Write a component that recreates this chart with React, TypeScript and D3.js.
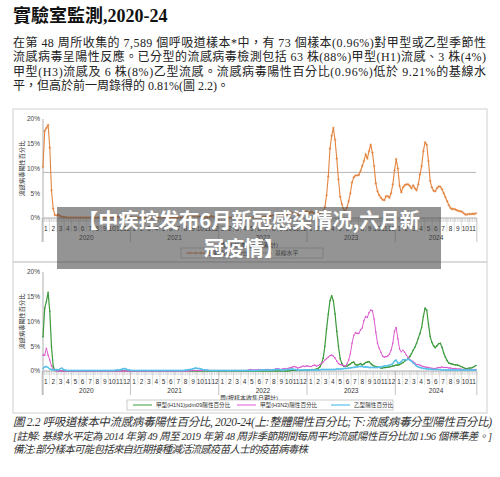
import React from 'react';
import * as d3 from 'd3';

const years = ['2020', '2021', '2022', '2023', '2024'];
const weeksPerYear = [52, 52, 52, 52, 48];
const monthsPerYear = [12, 12, 12, 12, 11];
const yTicks = [0, 5, 10, 15, 20];
const baselineLevel = 9.21;

// overall positive %
const overall2020 = [
  10.3, 17.6, 18.2, 18.8, 14.2, 5.6, 1.9, 0.6, 0.5, 0.7,
  0.4, 0.3, 0.2, 0.2, 0.1, 0.1, 0.1, 0.1, 0.1, 0.1,
  0.1, 0.1, 0.1, 0.1, 0.1, 0.1, 0.1, 0.1, 0.1, 0.1,
  0.1, 0.1, 0.1, 0.1, 0.1, 0.1, 0.2, 0.1, 0.1, 0.1,
  0.1, 0.2, 0.2, 0.2, 0.3, 0.2, 0.3, 0.4, 0.3, 0.2,
  0.2, 0.2,
];
const overall2021 = [
  0.2, 0.1, 0.1, 0.1, 0.1, 0.1, 0.1, 0.1, 0.1, 0.1,
  0.1, 0.1, 0.1, 0.1, 0.1, 0.1, 0.1, 0.1, 0.1, 0.1,
  0.1, 0.1, 0.1, 0.1, 0.1, 0.1, 0.1, 0.1, 0.1, 0.1,
  0.1, 0.2, 0.2, 0.3, 0.3, 0.4, 0.5, 0.4, 0.5, 0.4,
  0.3, 0.3, 0.3, 0.2, 0.2, 0.2, 0.3, 0.4, 0.3, 0.2,
  0.2, 0.2,
];
const overall2022 = [
  0.2, 0.2, 0.1, 0.1, 0.1, 0.1, 0.1, 0.1, 0.1, 0.1,
  0.1, 0.1, 0.1, 0.1, 0.1, 0.1, 0.1, 0.1, 0.1, 0.1,
  0.1, 0.1, 0.2, 0.2, 0.2, 0.2, 0.2, 0.3, 0.3, 0.4,
  0.4, 0.5, 0.5, 0.6, 0.5, 0.5, 0.4, 0.5, 0.5, 0.6,
  0.7, 0.9, 1.1, 1.0, 0.9, 0.8, 0.7, 0.6, 0.8, 1.0,
  1.2, 1.3,
];
const overall2023 = [
  1.2, 1.0, 1.3, 1.1, 0.9, 1.1, 1.0, 0.8, 1.2, 1.2,
  2.2, 4.6, 8.4, 14.0, 16.6, 18.2, 15.8, 12.0, 7.8, 4.3,
  2.8, 1.8, 1.4, 2.1, 3.4, 5.0, 7.2, 8.2, 8.6, 8.6,
  8.7, 9.5, 10.5, 11.5, 12.9, 12.0, 13.5, 14.8, 13.2, 10.5,
  7.0, 5.4, 4.6, 4.1, 3.7, 3.6, 4.4, 4.4, 4.1, 5.0,
  6.8, 9.6,
];
const overall2024 = [
  11.9, 10.0, 6.5, 5.2, 6.2, 6.6, 6.8, 6.8, 6.5, 6.0,
  6.6, 6.0, 5.6, 6.8, 8.8, 10.5, 13.5, 15.3, 14.8, 11.5,
  7.5, 6.2, 5.5, 5.4, 6.0, 6.4, 6.3, 5.8, 5.0, 4.2,
  3.4, 2.6, 2.0, 1.8, 1.8, 1.7, 1.5, 1.4, 1.35, 1.2,
  0.9, 0.65, 0.75, 0.8, 0.8, 0.85, 0.81, 0.96,
];

// A(H1N1)pdm09
const h1_2020 = [
  6.9, 12.7, 14.0, 15.9, 12.0, 4.9, 1.0, 0.1, 0.1, 0.0,
  0.0, 0.0, 0.0, 0.0, 0.0, 0.0, 0.0, 0.0, 0.0, 0.0,
  0.0, 0.0, 0.0, 0.0, 0.0, 0.0, 0.0, 0.0, 0.0, 0.0,
  0.0, 0.0, 0.0, 0.0, 0.0, 0.0, 0.0, 0.0, 0.0, 0.0,
  0.0, 0.0, 0.0, 0.0, 0.0, 0.0, 0.0, 0.0, 0.0, 0.0,
  0.0, 0.0,
];
const h1_2021 = [
  0.0, 0.0, 0.0, 0.0, 0.0, 0.0, 0.0, 0.0, 0.0, 0.0,
  0.0, 0.0, 0.0, 0.0, 0.0, 0.0, 0.0, 0.0, 0.0, 0.0,
  0.0, 0.0, 0.0, 0.0, 0.0, 0.0, 0.0, 0.0, 0.0, 0.0,
  0.0, 0.0, 0.0, 0.0, 0.0, 0.0, 0.0, 0.0, 0.0, 0.0,
  0.0, 0.0, 0.0, 0.0, 0.0, 0.0, 0.0, 0.0, 0.0, 0.0,
  0.0, 0.0,
];
const h1_2022 = [
  0.0, 0.0, 0.0, 0.0, 0.0, 0.0, 0.0, 0.0, 0.0, 0.0,
  0.0, 0.0, 0.0, 0.0, 0.0, 0.0, 0.0, 0.0, 0.0, 0.0,
  0.0, 0.0, 0.0, 0.0, 0.0, 0.0, 0.0, 0.0, 0.0, 0.0,
  0.0, 0.0, 0.0, 0.0, 0.0, 0.0, 0.0, 0.0, 0.0, 0.0,
  0.0, 0.0, 0.1, 0.1, 0.1, 0.1, 0.1, 0.1, 0.1, 0.1,
  0.2, 0.2,
];
const h1_2023 = [
  0.2, 0.2, 0.3, 0.3, 0.3, 0.4, 0.5, 0.8, 1.5, 2.6,
  5.0, 8.5, 11.5, 14.2, 15.2, 14.2, 11.5, 8.0, 5.0, 2.5,
  1.5, 1.0, 0.9, 1.0, 1.2, 1.4, 1.7, 1.8, 1.3, 1.2,
  1.3, 1.5, 1.2, 1.4, 1.7, 1.8, 1.9, 1.5, 1.2, 1.0,
  0.9, 0.8, 0.7, 0.6, 0.6, 0.7, 0.7, 0.8, 0.8, 0.9,
  1.0, 1.1,
];
const h1_2024 = [
  1.2, 1.2, 1.3, 1.5, 1.7, 2.0, 2.2, 2.5, 2.9, 3.5,
  4.2, 4.8, 5.6, 6.6, 7.6, 8.8, 11.0, 12.7, 12.3, 9.5,
  7.0, 5.8, 5.1, 4.7, 5.1, 5.5, 5.6, 4.8, 3.6, 2.8,
  2.1, 1.6, 1.5, 1.4, 1.3, 1.25, 1.2, 1.1, 0.9, 0.8,
  0.6, 0.5, 0.5, 0.6, 0.6, 0.7, 0.9, 1.1,
];

// A(H3N2)
const h3_2020 = [
  3.2, 3.2, 4.6, 3.2, 2.2, 1.0, 0.3, 0.1, 0.0, 0.0,
  0.0, 0.0, 0.0, 0.0, 0.0, 0.0, 0.0, 0.0, 0.0, 0.0,
  0.0, 0.0, 0.0, 0.0, 0.0, 0.0, 0.0, 0.0, 0.0, 0.0,
  0.0, 0.0, 0.0, 0.0, 0.0, 0.0, 0.0, 0.0, 0.0, 0.0,
  0.0, 0.0, 0.0, 0.0, 0.0, 0.0, 0.0, 0.0, 0.0, 0.0,
  0.0, 0.0,
];
const h3_2021 = [
  0.0, 0.0, 0.0, 0.0, 0.0, 0.0, 0.0, 0.0, 0.0, 0.0,
  0.0, 0.0, 0.0, 0.0, 0.0, 0.0, 0.0, 0.0, 0.0, 0.0,
  0.0, 0.0, 0.0, 0.0, 0.0, 0.0, 0.0, 0.0, 0.0, 0.0,
  0.0, 0.0, 0.0, 0.0, 0.0, 0.1, 0.1, 0.1, 0.1, 0.1,
  0.1, 0.1, 0.1, 0.1, 0.1, 0.1, 0.1, 0.1, 0.1, 0.1,
  0.1, 0.1,
];
const h3_2022 = [
  0.1, 0.1, 0.1, 0.1, 0.1, 0.1, 0.1, 0.1, 0.1, 0.1,
  0.1, 0.1, 0.1, 0.1, 0.1, 0.1, 0.1, 0.2, 0.3, 0.2,
  0.2, 0.2, 0.2, 0.3, 0.2, 0.2, 0.2, 0.3, 0.3, 0.3,
  0.2, 0.2, 0.3, 0.4, 0.5, 0.4, 0.3, 0.4, 0.5, 0.4,
  0.5, 0.6, 0.7, 0.8, 0.9, 0.8, 0.6, 0.7, 0.8, 1.0,
  0.9, 1.0,
];
const h3_2023 = [
  1.0, 0.9, 0.9, 1.1, 1.2, 1.0, 1.1, 1.3, 1.5, 1.8,
  2.2, 2.5, 2.8, 3.1, 3.2, 3.0, 2.6, 2.0, 1.5, 1.3,
  1.2, 1.1, 1.0, 1.4, 2.2, 3.5, 5.6, 7.2, 7.7, 7.6,
  7.6, 8.3, 8.7, 10.2, 11.0, 10.8, 11.8, 12.3, 12.2, 10.5,
  7.8, 5.6, 4.6, 3.8, 3.0, 2.8, 2.9, 3.0, 3.4, 4.2,
  5.6, 8.0,
];
const h3_2024 = [
  8.8, 6.5, 4.4, 3.9, 4.2, 3.8, 3.2, 2.8, 2.3, 2.1,
  1.9, 1.6, 1.3, 1.3, 1.2, 1.0, 0.9, 0.8, 0.75, 0.7,
  0.6, 0.55, 0.5, 0.5, 0.6, 0.7, 0.7, 0.8, 0.7, 0.7,
  0.7, 0.6, 0.6, 0.5, 0.5, 0.5, 0.4, 0.4, 0.4, 0.3,
  0.3, 0.3, 0.3, 0.3, 0.3, 0.3, 0.3, 0.3,
];

// B
const b_2020 = [
  0.5, 0.8, 0.9, 0.7, 0.4, 0.3, 0.2, 0.2, 0.3, 0.2,
  0.4, 0.6, 0.3, 0.2, 0.1, 0.1, 0.1, 0.1, 0.1, 0.1,
  0.1, 0.1, 0.1, 0.1, 0.1, 0.1, 0.1, 0.1, 0.1, 0.1,
  0.1, 0.1, 0.1, 0.1, 0.1, 0.1, 0.1, 0.1, 0.1, 0.1,
  0.1, 0.1, 0.1, 0.2, 0.2, 0.2, 0.3, 0.4, 0.5, 0.4,
  0.2, 0.2,
];
const b_2021 = [
  0.1, 0.1, 0.1, 0.1, 0.1, 0.1, 0.1, 0.1, 0.1, 0.1,
  0.1, 0.1, 0.1, 0.1, 0.1, 0.1, 0.1, 0.1, 0.1, 0.1,
  0.1, 0.1, 0.1, 0.1, 0.1, 0.1, 0.1, 0.1, 0.1, 0.1,
  0.1, 0.1, 0.2, 0.2, 0.3, 0.3, 0.4, 0.5, 0.6, 0.5,
  0.5, 0.4, 0.3, 0.2, 0.2, 0.2, 0.1, 0.1, 0.1, 0.1,
  0.1, 0.1,
];
const b_2022 = [
  0.1, 0.1, 0.1, 0.1, 0.1, 0.1, 0.1, 0.1, 0.1, 0.1,
  0.1, 0.1, 0.1, 0.1, 0.1, 0.1, 0.1, 0.1, 0.1, 0.1,
  0.1, 0.1, 0.1, 0.1, 0.2, 0.2, 0.2, 0.2, 0.2, 0.2,
  0.2, 0.2, 0.2, 0.3, 0.3, 0.3, 0.2, 0.2, 0.2, 0.3,
  0.3, 0.3, 0.4, 0.4, 0.3, 0.3, 0.2, 0.2, 0.2, 0.2,
  0.2, 0.2,
];
const b_2023 = [
  0.2, 0.2, 0.2, 0.2, 0.2, 0.2, 0.2, 0.2, 0.3, 0.3,
  0.3, 0.3, 0.3, 0.3, 0.3, 0.3, 0.3, 0.4, 0.4, 0.4,
  0.4, 0.5, 0.5, 0.5, 0.6, 0.6, 0.7, 0.7, 0.8, 0.8,
  0.9, 0.9, 0.9, 0.8, 0.8, 0.8, 0.7, 0.7, 0.7, 0.7,
  0.7, 0.7, 0.8, 0.8, 0.9, 1.0, 1.0, 1.1, 1.2, 1.3,
  1.5, 2.0,
];
const b_2024 = [
  2.2, 1.6, 1.6, 1.9, 2.3, 2.3, 2.2, 2.4, 2.2, 2.0,
  1.6, 1.3, 1.0, 0.8, 0.7, 0.6, 0.5, 0.5, 0.4, 0.4,
  0.4, 0.3, 0.3, 0.3, 0.3, 0.3, 0.3, 0.2, 0.2, 0.2,
  0.2, 0.2, 0.2, 0.2, 0.2, 0.2, 0.2, 0.2, 0.2, 0.2,
  0.2, 0.2, 0.2, 0.2, 0.2, 0.2, 0.2, 0.2,
];

const paragraph = [
  '在第 48 周所收集的 7,589 個呼吸道樣本*中，有 73 個樣本(0.96%)對甲型或乙型季節性',
  '流感病毒呈陽性反應。已分型的流感病毒檢測包括 63 株(88%)甲型(H1)流感、3 株(4%)',
  '甲型(H3)流感及 6 株(8%)乙型流感。流感病毒陽性百分比(0.96%)低於 9.21%的基線水',
  '平，但高於前一周錄得的 0.81%(圖 2.2)。',
];
const captions = [
  '圖 2.2 呼吸道樣本中流感病毒陽性百分比, 2020-24(上:整體陽性百分比;下:流感病毒分型陽性百分比)',
  '[註解: 基線水平定為 2014 年第 49 周至 2019 年第 48 周非季節期間每周平均流感陽性百分比加 1.96 個標準差。]',
  '備注:部分樣本可能包括來自近期接種減活流感疫苗人士的疫苗病毒株',
];
const overlayLines = ['【中疾控发布6月新冠感染情况,六月新', '冠疫情】'];

const W = 500;
const H = 477;
const SERIF = "'Liberation Serif', 'Noto Sans CJK TC', serif";
const SANS = "'Liberation Sans', 'Noto Sans CJK TC', sans-serif";

const offsets = weeksPerYear.reduce((acc: number[], n, i) => {
  acc.push(i === 0 ? 0 : acc[i - 1] + weeksPerYear[i - 1]);
  return acc;
}, []);
const totalWeeks = d3.sum(weeksPerYear);
const x = d3.scaleLinear().domain([0, totalWeeks - 1]).range([43, 476]);

const concat = (arrs: number[][]) => {
  const out: { i: number; v: number }[] = [];
  arrs.forEach((a, k) => a.forEach((v, j) => out.push({ i: offsets[k] + j, v })));
  return out;
};

const overall = concat([overall2020, overall2021, overall2022, overall2023, overall2024]);
const h1 = concat([h1_2020, h1_2021, h1_2022, h1_2023, h1_2024]);
const h3 = concat([h3_2020, h3_2021, h3_2022, h3_2023, h3_2024]);
const bb = concat([b_2020, b_2021, b_2022, b_2023, b_2024]);

const C_OVERALL = '#e4843f';
const C_H1 = '#3c9a3c';
const C_H3 = '#dc5ccf';
const C_B = '#58c0ea';
const C_BASE = '#b5b5b5';

function Axes({ y0, y20 }: { y0: number; y20: number }) {
  const y = d3.scaleLinear().domain([0, 20]).range([y0, y20]);
  const weeks = d3.range(totalWeeks);
  const half = (x(1) - x(0)) / 2;
  const midY = (y0 + y20) / 2;
  return (
    <g>
      <line x1={43} x2={43} y1={y20} y2={y0 + 24} stroke="#9a9a9a" strokeWidth={0.8} />
      {yTicks.map((t) => (
        <text key={t} x={40} y={y(t)} dy="0.35em" textAnchor="end" fontSize={6.5} fontFamily={SANS} fill="#444">
          {t}%
        </text>
      ))}
      <line x1={43} x2={x(totalWeeks - 1) + half} y1={y0} y2={y0} stroke="#9a9a9a" strokeWidth={0.8} />
      {weeks.map((i) => (
        <line key={i} x1={x(i)} x2={x(i)} y1={y0} y2={y0 + 4} stroke="#b4b4b4" strokeWidth={0.5} />
      ))}
      {years.map((yr, k) => {
        const off = offsets[k];
        const step = 52 / 12;
        const seps = d3.range(1, monthsPerYear[k]);
        return (
          <g key={yr}>
            {seps.map((m) => {
              const xx = x(off + m * step - 0.5);
              return <line key={m} x1={xx} x2={xx} y1={y0} y2={y0 + 14} stroke="#c0c0c0" strokeWidth={0.5} />;
            })}
            {d3.range(1, monthsPerYear[k] + 1).map((m) => (
              <text key={m} x={x(off + (m - 0.5) * step - 0.5)} y={y0 + 12.5} textAnchor="middle" fontSize={6.5} fontFamily={SANS} fill="#333">
                {m}
              </text>
            ))}
            <line x1={x(off - 0.5)} x2={x(off - 0.5)} y1={y0} y2={y0 + 24} stroke="#9a9a9a" strokeWidth={0.6} />
            <text x={x(off + weeksPerYear[k] / 2 - 0.5)} y={y0 + 21.5} textAnchor="middle" fontSize={6.5} fontFamily={SANS} fill="#333">
              {yr}
            </text>
          </g>
        );
      })}
      <line x1={x(totalWeeks - 0.5)} x2={x(totalWeeks - 0.5)} y1={y0} y2={y0 + 24} stroke="#9a9a9a" strokeWidth={0.6} />
      <text x={22} y={midY} transform={`rotate(-90 22 ${midY})`} textAnchor="middle" dy="0.35em" fontSize={6.2} fontFamily={SANS} fill="#333">
        流感病毒陽性百分比
      </text>
      <text x={249} y={y0 + 28.5} textAnchor="middle" fontSize={6} fontFamily={SANS} fill="#333">
        周(按樣本收集日期計)
      </text>
    </g>
  );
}

function Series({ data, y, color, width = 1.1, marker = 'plus' }: any) {
  const line = d3.line<{ i: number; v: number }>().x((d) => x(d.i)).y((d) => y(d.v));
  return (
    <g>
      <path d={line(data) || ''} fill="none" stroke={color} strokeWidth={width} strokeLinejoin="round" />
      {data.map((d: any) =>
        marker === 'plus' ? (
          <path key={d.i} d={`M${x(d.i) - 1.3},${y(d.v)}h2.6M${x(d.i)},${y(d.v) - 1.3}v2.6`} stroke={color} strokeWidth={0.7} />
        ) : (
          <circle key={d.i} cx={x(d.i)} cy={y(d.v)} r={0.8} fill={color} />
        )
      )}
    </g>
  );
}

export default function App() {
  const yTop = d3.scaleLinear().domain([0, 20]).range([218, 119]);
  const yBot = d3.scaleLinear().domain([0, 20]).range([371, 272]);
  return (
    <svg width={W} height={H} style={{ position: 'absolute', left: 0, top: 0, background: '#fff' }}>
      <rect x={0} y={0} width={W} height={H} fill="#fff" />
      <text x={13} y={22} fontSize={18} fontWeight="bold" fontFamily={SERIF} fill="#111">
        實驗室監測,2020-24
      </text>
      {paragraph.map((s, i) => (
        <text
          key={i}
          x={13}
          y={47 + i * 14.3}
          fontSize={12}
          fontFamily={SERIF}
          fill="#222"
          {...(i < 3 ? { textLength: 473, lengthAdjust: 'spacing' } : {})}
        >
          {s}
        </text>
      ))}

      {/* panels */}
      <rect x={13} y={109} width={474} height={153} fill="none" stroke="#cfcfcf" strokeWidth={1} />
      <rect x={13} y={262} width={474} height={151} fill="none" stroke="#cfcfcf" strokeWidth={1} />

      {/* top chart */}
      <Axes y0={218} y20={119} />
      <line x1={43} x2={476} y1={yTop(baselineLevel)} y2={yTop(baselineLevel)} stroke={C_BASE} strokeWidth={1} />
      <Series data={overall} y={yTop} color={C_OVERALL} />
      <rect x={181} y={248} width={142} height={10} fill="#fff" stroke="#999" strokeWidth={0.5} />
      <line x1={186} x2={205} y1={253} y2={253} stroke={C_OVERALL} strokeWidth={1} />
      <path d="M190,251.7v2.6M195.5,251.7v2.6M201,251.7v2.6" stroke={C_OVERALL} strokeWidth={0.7} />
      <text x={208} y={255.2} fontSize={5.8} fontFamily={SANS} fill="#333">整體陽性百分比</text>
      <line x1={257} x2={272} y1={253} y2={253} stroke={C_BASE} strokeWidth={1} />
      <text x={275} y={255.2} fontSize={5.8} fontFamily={SANS} fill="#333">基線水平</text>

      {/* bottom chart */}
      <Axes y0={371} y20={272} />
      <Series data={h1} y={yBot} color={C_H1} width={1.2} marker="dot" />
      <Series data={h3} y={yBot} color={C_H3} width={1.0} marker="dot" />
      <Series data={bb} y={yBot} color={C_B} width={1.4} marker="dot" />
      <rect x={127} y={400} width={266} height={10} fill="#fff" stroke="#999" strokeWidth={0.5} />
      <line x1={133} x2={152} y1={405} y2={405} stroke={C_H1} strokeWidth={1} />
      <text x={156} y={407.2} fontSize={5.6} fontFamily={SANS} fill="#333">甲型(H1N1)pdm09陽性百分比</text>
      <line x1={237} x2={256} y1={405} y2={405} stroke={C_H3} strokeWidth={1} />
      <text x={260} y={407.2} fontSize={5.6} fontFamily={SANS} fill="#333">甲型(H3N2)陽性百分比</text>
      <line x1={331} x2={350} y1={405} y2={405} stroke={C_B} strokeWidth={1.2} />
      <text x={354} y={407.2} fontSize={5.6} fontFamily={SANS} fill="#333">乙型陽性百分比</text>

      {/* captions */}
      <text x={13} y={426} fontSize={11.5} fontStyle="italic" fontFamily={SERIF} fill="#333" textLength={479} lengthAdjust="spacing">
        {captions[0]}
      </text>
      <text x={13} y={440} fontSize={10.5} fontStyle="italic" fontFamily={SERIF} fill="#333" textLength={479} lengthAdjust="spacing">
        {captions[1]}
      </text>
      <text x={13} y={453} fontSize={10.5} fontStyle="italic" fontFamily={SERIF} fill="#333" textLength={295} lengthAdjust="spacing">
        {captions[2]}
      </text>

      {/* overlay */}
      <rect x={57} y={207} width={384} height={62} fill="rgba(70,70,70,0.58)" />
      <text x={249} y={228} textAnchor="middle" fontSize={20} fontWeight="bold" fontFamily="'Noto Sans CJK SC', sans-serif" fill="#fff" textLength={342} lengthAdjust="spacingAndGlyphs">
        {overlayLines[0]}
      </text>
      <text x={244} y={256} textAnchor="middle" fontSize={20} fontWeight="bold" fontFamily="'Noto Sans CJK SC', sans-serif" fill="#fff">
        {overlayLines[1]}
      </text>
    </svg>
  );
}
